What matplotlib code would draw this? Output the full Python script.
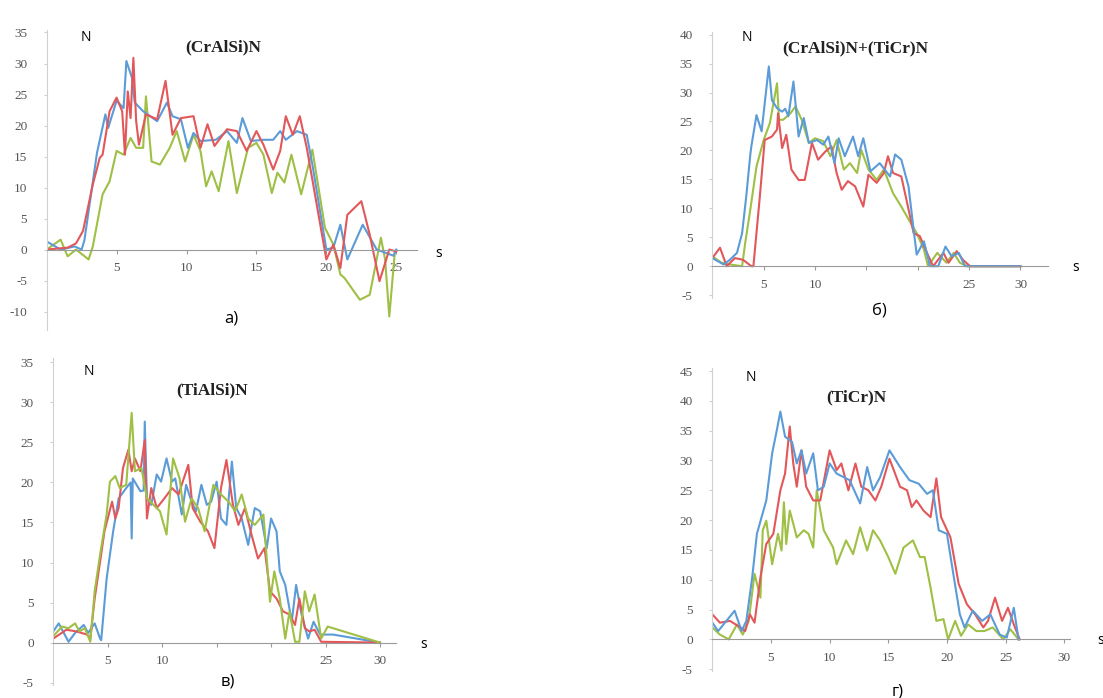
import matplotlib
matplotlib.use("Agg")
from matplotlib import pyplot as plt

plt.rcParams["axes.unicode_minus"] = False

# colours of the three series
BLUE = "#5b9bd8"
RED = "#e2575a"
GREEN = "#9fbf45"

# ---- panel a) (CrAlSi)N ----
a_blue_x = [0, 1.0, 2.0, 2.5, 2.7, 3.6, 4.2, 4.4, 5.0, 5.5, 5.7, 6.1, 6.3, 6.9, 7.9, 8.6, 9.0, 9.6,
            10.1, 10.5, 11.0, 12.1, 12.9, 13.6, 14.0, 14.6, 15.5, 16.2, 16.7, 17.1, 17.9, 18.6, 19.0,
            20.0, 20.5, 21.0, 21.5, 22.6, 23.6, 24.8, 25.0]
a_blue_y = [1.3, 0, 0.5, 0, 1.5, 15.6, 21.8, 19.6, 24, 22.8, 30.4, 27.7, 23.7, 22.3, 20.7, 23.7, 21.5, 21,
            16.4, 18.8, 17.5, 17.7, 19.1, 17.2, 21.2, 17.5, 17.7, 17.7, 19.1, 17.7, 19.1, 18.5, 13.7,
            0, 0.3, 4, -1.6, 4, 0, -1, 0]
a_red_x = [0, 1.5, 2.1, 2.6, 3.3, 3.8, 4.0, 4.5, 5.0, 5.4, 5.6, 5.8, 6.0, 6.2, 6.4, 6.6, 7.1, 7.9, 8.5,
           9.0, 9.6, 10.5, 11.0, 11.5, 12.0, 12.9, 13.6, 14.3, 15.0, 15.5, 16.2, 16.7, 17.1, 17.6,
           18.1, 18.6, 20.0, 20.5, 21.0, 21.5, 22.5, 23.1, 23.8, 24.5, 25.0]
a_red_y = [0, 0.3, 1, 3, 10.5, 14.8, 15.3, 22.3, 24.5, 22.3, 15.3, 25.5, 21.2, 30.9, 20.7, 16.9, 21.8, 21,
           27.2, 18.5, 21.2, 21.5, 16.4, 20.2, 16.7, 19.4, 19.1, 15.9, 19.1, 16.9, 12.9, 15.9, 21.5,
           18.5, 21.5, 16.4, -1.6, 0.8, -3, 5.6, 7.8, 2.4, -5.1, 0, -0.3]
a_green_x = [0, 1.0, 1.5, 2.1, 3.0, 3.3, 4.0, 4.5, 5.0, 5.5, 6.0, 6.4, 6.9, 7.1, 7.5, 8.1, 8.8, 9.3,
             9.9, 10.5, 11.0, 11.4, 11.8, 12.3, 13.0, 13.6, 14.4, 15.0, 15.5, 16.1, 16.5, 17.0, 17.5,
             18.2, 19.0, 19.9, 20.5, 21.0, 21.3, 22.4, 23.1, 23.9, 24.2, 24.5, 24.9]
a_green_y = [0, 1.6, -1.1, 0, -1.6, 0.5, 8.9, 11, 15.9, 15.3, 18, 16.4, 16.4, 24.7, 14.2, 13.7, 16.4, 19.1,
             14.2, 18.5, 15.9, 10.2, 12.6, 9.4, 17.5, 9.1, 16.4, 17.2, 15.3, 9.1, 12.4, 10.8, 15.3,
             8.9, 16.1, 3.5, 0.8, -4, -4.6, -8.1, -7.3, 1.9, -1.6, -10.8, -0.3]

# ---- panel б) (CrAlSi)N+(TiCr)N ----
b_blue_x = [0, 1.1, 1.7, 2.4, 2.9, 3.3, 3.7, 3.8, 4.3, 4.8, 5.5, 5.8, 6.3, 6.8, 7.1, 7.4, 7.9, 8.4, 8.9,
            9.4, 10.2, 10.8, 11.3, 11.9, 12.3, 12.9, 13.7, 14.2, 14.7, 15.4, 16.3, 17.3, 17.8, 18.4,
            19.1, 19.6, 19.9, 20.6, 21.2, 22.0, 22.7, 23.3, 24.0, 24.6, 30.0]
b_blue_y = [1.4, 0.3, 1.1, 2.3, 5.7, 12.0, 19.3, 20.7, 26.1, 23.3, 34.5, 28.7, 27.3, 26.7, 27.2, 25.9, 31.9,
            22.4, 25.6, 21.3, 21.8, 21, 22.4, 17.8, 22.1, 19, 22.4, 19, 22.1, 16.4, 17.8, 15.5, 19.3,
            18.4, 13.8, 6.3, 2, 4.3, 0, 0, 3.4, 1.7, 2.3, 0, 0]
b_red_x = [0, 0.75, 1.4, 2.2, 3.0, 3.8, 4.0, 4.6, 5.1, 5.8, 6.3, 6.4, 6.8, 7.2, 7.7, 8.4, 9.0, 9.7, 10.3,
           11.0, 11.6, 12.1, 12.6, 13.2, 13.9, 14.7, 15.2, 16.0, 16.7, 17.1, 17.6, 18.4, 18.9, 19.6,
           20.2, 20.9, 21.5, 22.5, 23.0, 23.8, 24.4, 25.1, 30.0]
b_red_y = [1.4, 3.2, 0, 1.4, 1.1, 0, 0, 11.5, 21.8, 22.4, 23.6, 26.4, 20.4, 22.7, 16.7, 14.9, 14.9, 21.3,
           18.4, 19.8, 20.7, 16.1, 13.2, 14.7, 13.8, 10.3, 15.8, 14.4, 16.1, 19, 16.1, 15.5, 11.5, 5.7,
           5.2, 2.3, 0, 2.3, 0.6, 2.6, 1.1, 0, 0]
b_green_x = [0, 0.9, 1.7, 2.9, 3.2, 3.7, 4.3, 5.0, 5.6, 6.3, 6.5, 6.9, 7.6, 8.1, 8.7, 9.4, 10.0, 10.8,
             11.5, 12.1, 12.8, 13.4, 14.1, 14.5, 15.2, 16.0, 16.7, 17.6, 18.4, 19.3, 19.9, 20.6, 21.0,
             21.9, 22.8, 23.5, 24.1, 24.8, 30.0]
b_green_y = [1.7, 0.6, 0.3, 0, 4, 9.8, 17.2, 21.8, 24.7, 31.6, 25.3, 25.3, 26.4, 27.6, 25.3, 21.3, 22.1, 21.6,
             19, 21.8, 16.7, 17.8, 16.1, 20.1, 16.7, 14.9, 16.7, 12.6, 10.3, 7.5, 5.7, 2.9, 0,
             2.3, 0.6, 2.3, 0.6, 0, 0]

# ---- panel в) (TiAlSi)N ----
c_blue_x = [0, 0.5, 1.4, 2.0, 2.8, 3.2, 3.8, 4.3, 4.4, 4.9, 5.5, 6.0, 6.7, 7.1, 7.2, 7.3, 8.0, 8.3, 8.4,
            8.6, 9.0, 9.5, 9.9, 10.4, 10.9, 11.2, 11.8, 12.2, 12.7, 13.1, 13.6, 14.1, 14.5, 15.0, 15.4,
            15.9, 16.4, 16.8, 17.3, 17.9, 18.5, 19.0, 19.6, 20.0, 20.5, 20.8, 21.3, 21.9, 22.3, 22.8,
            23.4, 23.9, 24.5, 25.7, 30.0]
c_blue_y = [1.4, 2.4, 0.1, 1.2, 2.2, 1.2, 2.4, 0.5, 0.3, 8, 13.9, 18, 19.3, 20, 13, 20.5, 18.9, 19, 27.6,
            18, 17.2, 21, 20.1, 23, 20.1, 20.5, 16, 19.7, 17.6, 16.4, 19.7, 17.2, 17.6, 20.1, 15.5,
            14.7, 22.6, 16.8, 15.5, 12.2, 16.8, 16.4, 11.8, 15.5, 13.9, 8.9, 7.2, 2.6, 7.2, 3.5,
            0.5, 2.6, 1, 1, 0]
c_red_x = [0, 1.2, 2.1, 3.1, 3.4, 3.8, 4.3, 4.7, 5.4, 5.7, 6.0, 6.4, 6.9, 7.2, 7.5, 8.0, 8.4, 8.6, 9.0,
           9.5, 10.2, 10.9, 11.5, 12.4, 12.8, 13.5, 14.2, 14.8, 15.4, 15.9, 16.5, 17.0, 17.6, 18.2,
           18.8, 19.4, 19.9, 20.5, 21.1, 21.7, 22.2, 22.6, 23.1, 23.5, 24.0, 24.6, 30.0]
c_red_y = [0.5, 1.6, 1.4, 1, 0.5, 5.5, 10.1, 13.9, 17.6, 15.5, 16.8, 21.8, 24.1, 21.4, 23, 21.4, 25.3, 15.5,
           19.3, 16.8, 18, 19.3, 18.5, 22.2, 16.8, 15.1, 13.9, 11.8, 19.3, 22.8, 17.2, 14.7, 16.8, 13.5,
           10.5, 11.8, 6.4, 5.5, 3.9, 3.5, 2.2, 5.5, 1.8, 1.4, 1.6, 0.1, 0]
c_green_x = [0, 0.8, 1.4, 2.0, 2.4, 2.9, 3.4, 3.8, 4.3, 4.9, 5.2, 5.7, 6.1, 6.7, 7.2, 7.5, 8.1, 8.6, 9.2,
             9.8, 10.4, 11.0, 11.6, 12.1, 12.7, 13.3, 13.9, 14.7, 15.4, 16.1, 16.7, 17.3, 17.9, 18.5,
             19.3, 19.9, 20.3, 20.8, 21.3, 21.7, 22.2, 22.6, 23.1, 23.5, 24.0, 24.6, 25.2, 30.0]
c_green_y = [0.8, 2, 1.8, 2.4, 1.4, 1.8, 0.1, 6.4, 11, 16, 20.1, 20.8, 19.3, 19.7, 28.7, 21.4, 21.8, 18,
             17.2, 16.4, 13.5, 23, 20.5, 15.1, 18, 16.8, 13.9, 19.7, 18.5, 17.6, 16.4, 18.5, 15.5, 14.7,
             16, 5.1, 8.9, 5.5, 0.5, 3.9, 0.1, 0.1, 6.4, 3.9, 6, 0.5, 2, 0]

# ---- panel г) (TiCr)N ----
d_blue_x = [0, 0.5, 1.2, 1.9, 2.5, 2.9, 3.4, 3.8, 4.2, 4.6, 5.1, 5.5, 5.8, 6.2, 6.8, 7.2, 7.6, 8.0, 8.6,
            9.0, 9.5, 10.0, 10.6, 11.2, 11.7, 12.6, 13.2, 13.7, 14.3, 15.1, 16.0, 16.8, 17.6, 18.3,
            18.8, 19.3, 20.0, 20.5, 21.1, 21.5, 22.2, 23.0, 23.7, 24.5, 25.1, 25.7, 26.1]
d_blue_y = [2.8, 1.4, 3.1, 4.8, 1.4, 3.1, 10.4, 17.7, 20.5, 23.3, 31.2, 35.1, 38.2, 34, 33.1, 29.5, 31.7,
            27.8, 31.2, 25, 25.6, 29.5, 27.8, 27.2, 26.7, 22.8, 28.9, 25, 27.2, 31.7, 28.9, 26.7, 26.1,
            24.4, 25, 18.3, 17.7, 11.5, 4.2, 2, 4.8, 3.1, 4.2, 0.8, 0.3, 5.3, 0]
d_red_x = [0, 0.65, 1.5, 2.4, 2.8, 3.2, 3.6, 4.1, 4.6, 5.2, 5.8, 6.2, 6.6, 6.9, 7.2, 7.6, 8.0, 8.6, 9.2,
           10.0, 10.6, 11.0, 11.6, 12.2, 12.7, 13.3, 13.9, 14.4, 15.1, 16.0, 16.6, 17.0, 17.4, 18.0,
           18.6, 19.1, 19.5, 20.3, 21.0, 21.7, 22.4, 23.1, 23.5, 24.1, 24.7, 25.2, 25.7, 26.2]
d_red_y = [4.2, 2.8, 3.1, 2, 1.4, 4.2, 2.8, 10.4, 16, 17.7, 25, 27.8, 35.7, 29.5, 25.6, 31.7, 25.6, 23.3,
           23.3, 31.7, 28.4, 29.5, 25, 29.5, 25.6, 25, 23.3, 25.6, 30.3, 25.6, 25, 22.2, 23.3, 21.6,
           20.5, 27, 20.5, 17.1, 9.3, 5.9, 4.2, 2, 3.1, 7, 3.1, 5.3, 2.5, 0]
d_green_x = [0, 0.65, 1.4, 2.1, 2.6, 3.1, 3.6, 4.1, 4.3, 4.6, 5.1, 5.6, 5.9, 6.1, 6.3, 6.6, 6.9, 7.2, 7.8,
             8.2, 8.6, 8.9, 9.5, 10.3, 10.6, 11.4, 12.0, 12.6, 13.2, 13.7, 14.3, 15.0, 15.6, 16.3,
             17.1, 17.7, 18.1, 18.6, 19.1, 19.7, 20.1, 20.7, 21.2, 21.8, 22.5, 23.2, 23.9, 24.8, 25.4,
             26.1]
d_green_y = [2, 0.8, 0, 2.5, 0.8, 3.1, 11, 7, 18.3, 19.9, 12.6, 17.7, 14.9, 23, 16, 21.6, 19.4, 17.1,
             18.3, 17.7, 15.4, 25, 18.3, 15.4, 12.6, 16.6, 14.3, 18.8, 14.9, 18.3, 16.6, 13.8, 11, 15.4,
             16.6, 13.8, 13.8, 8.7, 3.1, 3.4, 0, 3.1, 0.6, 2.5, 1.4, 1.4, 2, 0, 1.7, 0]

panels = [
    dict(rect=[0.0423, 0.527, 0.336, 0.43], xlim=(0, 26.5), ylim=(-13, 35.4),
         yticks=range(-10, 36, 5), xticks=[5, 10, 15, 20, 25], xlabels=["5", "10", "15", "20", "25"],
         title="(CrAlSi)N", npos=(2.4, 34.2), tpos=(12.6, 32.6), spos=(27.8, -0.6),
         letter="а)", lpos=(13.2, -11.2),
         series=[(a_green_x, a_green_y, GREEN), (a_blue_x, a_blue_y, BLUE), (a_red_x, a_red_y, RED)]),
    dict(rect=[0.6458, 0.573, 0.3045, 0.3815], xlim=(0, 32.7), ylim=(-5.5, 40.5),
         yticks=range(-5, 41, 5), xticks=[5, 10, 15, 20, 25, 30], xlabels=["5", "10", "", "", "25", "30"],
         title="(CrAlSi)N+(TiCr)N", npos=(2.9, 39.5), tpos=(13.9, 37.6), spos=(35.0, -0.2),
         letter="б)", lpos=(16.3, -7.6),
         series=[(b_green_x, b_green_y, GREEN), (b_red_x, b_red_y, RED), (b_blue_x, b_blue_y, BLUE)]),
    dict(rect=[0.0483, 0.0186, 0.311, 0.468], xlim=(0, 31.5), ylim=(-5.3, 35.5),
         yticks=range(-5, 36, 5), xticks=[5, 10, 15, 20, 25, 30], xlabels=["5", "10", "", "", "25", "30"],
         title="(TiAlSi)N", npos=(2.8, 33.8), tpos=(14.6, 31.5), spos=(33.7, -0.2),
         letter="в)", lpos=(16.0, -4.9),
         series=[(c_blue_x, c_blue_y, BLUE), (c_red_x, c_red_y, RED), (c_green_x, c_green_y, GREEN)]),
    dict(rect=[0.6458, 0.0387, 0.3244, 0.434], xlim=(0, 30.5), ylim=(-5.3, 45.5),
         yticks=range(-5, 46, 5), xticks=[5, 10, 15, 20, 25, 30], xlabels=["5", "10", "15", "20", "25", "30"],
         title="(TiCr)N", npos=(2.8, 43.9), tpos=(12.3, 40.5), spos=(32.8, -0.2),
         letter="г)", lpos=(15.8, -8.8),
         series=[(d_green_x, d_green_y, GREEN), (d_red_x, d_red_y, RED), (d_blue_x, d_blue_y, BLUE)]),
]

fig = plt.figure(figsize=(11.03, 6.98), dpi=100)

for p in panels:
    ax = fig.add_axes(p["rect"])
    for xs, ys, col in p["series"]:
        ax.plot(xs, ys, color=col, lw=1.5, solid_joinstyle="round")
    ax.set_xlim(*p["xlim"])
    ax.set_ylim(*p["ylim"])
    ax.spines["top"].set_visible(False)
    ax.spines["right"].set_visible(False)
    ax.spines["bottom"].set_position(("data", 0))
    ax.spines["bottom"].set_color("#9a9a9a")
    ax.spines["left"].set_color("#d0d0d0")
    ax.set_yticks(list(p["yticks"]))
    ax.set_xticks(p["xticks"])
    ax.set_xticklabels(p["xlabels"])
    ax.tick_params(axis="x", length=3, color="#9a9a9a", labelsize=9.5, labelcolor="#555555", pad=6)
    ax.tick_params(axis="y", length=2, color="#d0d0d0", labelsize=9.5, labelcolor="#555555", pad=12)
    for lab in ax.get_xticklabels() + ax.get_yticklabels():
        lab.set_family("Liberation Serif")
    ax.patch.set_alpha(0)
    ax.text(*p["npos"], "N", fontsize=10, family="Open Sans", ha="left", va="center")
    ax.text(*p["tpos"], p["title"], fontsize=12.5, family="Liberation Serif", weight="bold",
            ha="center", va="center", color="#222222")
    ax.text(*p["spos"], "s", fontsize=10, family="Open Sans", ha="left", va="center", clip_on=False)
    ax.text(*p["lpos"], p["letter"], fontsize=12, family="Open Sans", ha="center", va="center")

fig.savefig("out.png", dpi=100)
